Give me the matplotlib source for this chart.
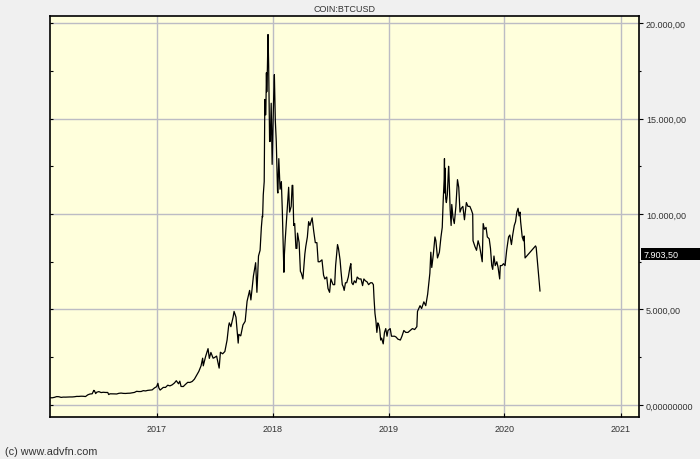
import matplotlib
matplotlib.use("Agg")
import matplotlib.pyplot as plt
import matplotlib.transforms as mtransforms
from matplotlib.patches import Rectangle
from matplotlib.ticker import FuncFormatter, MultipleLocator
import numpy as np

plt.rcParams["font.family"] = ["Liberation Sans", "DejaVu Sans"]

# BTC/USD closes (roughly weekly, denser around spikes)
dates = [
    "2016-01-30", "2016-02-06", "2016-02-13", "2016-02-20", "2016-02-27", "2016-03-05",
    "2016-03-12", "2016-03-19", "2016-03-26", "2016-04-02", "2016-04-09", "2016-04-16",
    "2016-04-23", "2016-04-30", "2016-05-07", "2016-05-14", "2016-05-21", "2016-05-28",
    "2016-06-04", "2016-06-11", "2016-06-16", "2016-06-18", "2016-06-22", "2016-06-25",
    "2016-07-02", "2016-07-09", "2016-07-16", "2016-07-23", "2016-07-30", "2016-08-02",
    "2016-08-06", "2016-08-13", "2016-08-20", "2016-08-27", "2016-09-03", "2016-09-10",
    "2016-09-17", "2016-09-24", "2016-10-01", "2016-10-08", "2016-10-15", "2016-10-22",
    "2016-10-29", "2016-11-05", "2016-11-12", "2016-11-19", "2016-11-26", "2016-12-03",
    "2016-12-10", "2016-12-17", "2016-12-24", "2016-12-31",
    "2017-01-04", "2017-01-07", "2017-01-11", "2017-01-14", "2017-01-21", "2017-01-28",
    "2017-02-04", "2017-02-11", "2017-02-18", "2017-02-25", "2017-03-03", "2017-03-10",
    "2017-03-14", "2017-03-18", "2017-03-25", "2017-04-01", "2017-04-08", "2017-04-15",
    "2017-04-22", "2017-04-29", "2017-05-06", "2017-05-13", "2017-05-20", "2017-05-25",
    "2017-05-27", "2017-06-03", "2017-06-10", "2017-06-11", "2017-06-15", "2017-06-20",
    "2017-06-27", "2017-07-01", "2017-07-08", "2017-07-15", "2017-07-16", "2017-07-20",
    "2017-07-27", "2017-08-03", "2017-08-10", "2017-08-15", "2017-08-17", "2017-08-22",
    "2017-08-29", "2017-09-01", "2017-09-07", "2017-09-14", "2017-09-16", "2017-09-22",
    "2017-09-29", "2017-10-06", "2017-10-12", "2017-10-15", "2017-10-20", "2017-10-24",
    "2017-11-01", "2017-11-08", "2017-11-12", "2017-11-17", "2017-11-22", "2017-11-26",
    "2017-11-29", "2017-11-30", "2017-12-02", "2017-12-05", "2017-12-07", "2017-12-08",
    "2017-12-10", "2017-12-12", "2017-12-13", "2017-12-15", "2017-12-17", "2017-12-19",
    "2017-12-22", "2017-12-24", "2017-12-27", "2017-12-30",
    "2018-01-02", "2018-01-05", "2018-01-06", "2018-01-09", "2018-01-12", "2018-01-16",
    "2018-01-17", "2018-01-20", "2018-01-24", "2018-01-28", "2018-01-31", "2018-02-02",
    "2018-02-05", "2018-02-06", "2018-02-09", "2018-02-15", "2018-02-20", "2018-02-23",
    "2018-02-28", "2018-03-03", "2018-03-05", "2018-03-08", "2018-03-11", "2018-03-15",
    "2018-03-18", "2018-03-20", "2018-03-25", "2018-03-29", "2018-04-01", "2018-04-06",
    "2018-04-12", "2018-04-15", "2018-04-20", "2018-04-24", "2018-04-28", "2018-05-05",
    "2018-05-10", "2018-05-15", "2018-05-20", "2018-05-24", "2018-05-29", "2018-06-05",
    "2018-06-10", "2018-06-14", "2018-06-20", "2018-06-24", "2018-06-29", "2018-07-03",
    "2018-07-10", "2018-07-15", "2018-07-18", "2018-07-24", "2018-07-27", "2018-08-01",
    "2018-08-04", "2018-08-08", "2018-08-11", "2018-08-14", "2018-08-18", "2018-08-22",
    "2018-08-27", "2018-09-01", "2018-09-04", "2018-09-07", "2018-09-11", "2018-09-15",
    "2018-09-20", "2018-09-24", "2018-09-30", "2018-10-06", "2018-10-11", "2018-10-15",
    "2018-10-20", "2018-10-25", "2018-10-30", "2018-11-05", "2018-11-10", "2018-11-14",
    "2018-11-16", "2018-11-19", "2018-11-22", "2018-11-25", "2018-11-28", "2018-12-01",
    "2018-12-04", "2018-12-07", "2018-12-10", "2018-12-15", "2018-12-19", "2018-12-23",
    "2018-12-27", "2018-12-30",
    "2019-01-06", "2019-01-10", "2019-01-15", "2019-01-20", "2019-01-25", "2019-01-30",
    "2019-02-07", "2019-02-12", "2019-02-18", "2019-02-24", "2019-03-03", "2019-03-10",
    "2019-03-17", "2019-03-24", "2019-03-31", "2019-04-02", "2019-04-10", "2019-04-15",
    "2019-04-22", "2019-04-28", "2019-05-04", "2019-05-11", "2019-05-14", "2019-05-17",
    "2019-05-22", "2019-05-27", "2019-05-30", "2019-06-04", "2019-06-10", "2019-06-15",
    "2019-06-19", "2019-06-22", "2019-06-25", "2019-06-26", "2019-06-27", "2019-06-28",
    "2019-06-30", "2019-07-02", "2019-07-05", "2019-07-09", "2019-07-10", "2019-07-14",
    "2019-07-17", "2019-07-19", "2019-07-23", "2019-07-27", "2019-08-01", "2019-08-06",
    "2019-08-10", "2019-08-14", "2019-08-18", "2019-08-23", "2019-08-28", "2019-09-03",
    "2019-09-08", "2019-09-14", "2019-09-19", "2019-09-23", "2019-09-24", "2019-09-30",
    "2019-10-05", "2019-10-10", "2019-10-15", "2019-10-18", "2019-10-23", "2019-10-26",
    "2019-10-30", "2019-11-04", "2019-11-08", "2019-11-14", "2019-11-18", "2019-11-22",
    "2019-11-25", "2019-11-29", "2019-12-03", "2019-12-08", "2019-12-12", "2019-12-17",
    "2019-12-19", "2019-12-24", "2019-12-29",
    "2020-01-03", "2020-01-06", "2020-01-08", "2020-01-14", "2020-01-18", "2020-01-23",
    "2020-01-27", "2020-02-01", "2020-02-05", "2020-02-09", "2020-02-13", "2020-02-16",
    "2020-02-19", "2020-02-21", "2020-02-26", "2020-03-01", "2020-03-03", "2020-03-06",
    "2020-04-08", "2020-04-10", "2020-04-22",
]
prices = [
    378, 376, 400, 438, 432, 397,
    412, 410, 417, 420, 420, 430,
    449, 448, 459, 455, 442, 530,
    574, 586, 765, 745, 595, 665,
    700, 650, 665, 655, 655, 545,
    585, 585, 580, 575, 610, 623,
    607, 603, 613, 617, 638, 657,
    715, 703, 705, 750, 735, 765,
    775, 790, 890, 960,
    1135, 895, 780, 820, 920, 920,
    1035, 1000, 1055, 1150, 1270, 1110,
    1245, 970, 965, 1080, 1185, 1180,
    1230, 1350, 1560, 1760, 2050, 2450,
    2050, 2520, 2880, 2950, 2440, 2750,
    2450, 2480, 2560, 2000, 1930, 2760,
    2680, 2800, 3400, 4150, 4300, 4100,
    4600, 4900, 4600, 3240, 3700, 3620,
    4190, 4380, 5430, 5650, 6000, 5500,
    6750, 7450, 5900, 7800, 8100, 9300,
    9900, 9850, 11000, 11700, 16000, 15200,
    15200, 17400, 16400, 17600, 19400, 17800,
    13800, 13800, 15800, 12600,
    14900, 16900, 17300, 14900, 13800, 11200,
    11100, 12900, 11300, 11700, 10200, 8900,
    6950, 7700, 8600, 10100, 11400, 10100,
    10400, 11500, 11500, 9400, 9500, 8200,
    8200, 9000, 8500, 7000, 6900, 6600,
    7900, 8300, 8800, 9600, 9400, 9800,
    9100, 8500, 8500, 7500, 7500, 7600,
    6800, 6600, 6700, 6100, 5900, 6600,
    6300, 6300, 7300, 8400, 8200, 7600,
    7000, 6300, 6200, 6000, 6400, 6400,
    6700, 7200, 7400, 6400, 6300, 6500,
    6400, 6700, 6600, 6600, 6250, 6600,
    6500, 6450, 6300, 6400, 6400, 6300,
    5600, 4800, 4400, 3800, 4300, 4200,
    3950, 3400, 3500, 3200, 3800, 4000,
    3600, 3900,
    4000, 3600, 3600, 3600, 3550, 3450,
    3400, 3600, 3900, 3800, 3800, 3900,
    4000, 3950, 4100, 4900, 5200, 5050,
    5400, 5200, 5800, 6900, 8000, 7200,
    7900, 8800, 8600, 7700, 8000, 8800,
    9300, 10700, 11800, 12900, 11100, 12400,
    10800, 10600, 11000, 12500, 12200, 10200,
    9400, 10500, 9800, 9500, 10400, 11800,
    11400, 10100, 10300, 10400, 9700, 10600,
    10400, 10400, 10200, 10000, 8600, 8300,
    8100, 8600, 8300, 8000, 7500, 9500,
    9200, 9300, 8800, 8700, 8200, 7300,
    7100, 7800, 7300, 7500, 7200, 6600,
    7300, 7300, 7400,
    7300, 7800, 8100, 8800, 8900, 8400,
    8900, 9400, 9600, 10100, 10300, 9900,
    10100, 9600, 8800, 8600, 8850, 7700,
    8330, 8250, 5970,
]
last_price = 7903.50
year_ticks = ["2017", "2018", "2019", "2020", "2021"]


def de_format(v, _pos=None):
    if v == 0:
        return "0,00000000"
    s = f"{v:,.2f}"
    return s.replace(",", "X").replace(".", ",").replace("X", ".")


x = np.array(dates, dtype="datetime64[D]")
y = np.array(prices, dtype=float)

fig = plt.figure(figsize=(7.0, 4.6), dpi=100, facecolor="#f0f0f0")
ax = fig.add_axes([50 / 700, 1 - 418 / 460, 589 / 700, 401 / 460])
ax.set_facecolor("#ffffdc")

ax.plot(x, y, color="black", lw=0.9, zorder=3)

ax.set_xlim(np.datetime64("2016-01-30"), np.datetime64("2021-02-28"))
ax.set_ylim(-630, 20370)

ax.set_xticks([np.datetime64(f"{yr}-01-01") for yr in year_ticks])
ax.set_xticklabels(year_ticks)
ax.yaxis.set_major_locator(MultipleLocator(5000))
ax.yaxis.set_minor_locator(MultipleLocator(2500))
ax.grid(True, which="major", color="#bcbcc4", lw=1.0, zorder=1)

ax.tick_params(axis="x", direction="in", length=3, width=0.8, labelsize=6.5,
               labelcolor="#333333", pad=5)
ax.tick_params(axis="y", which="both", direction="in", length=2, width=0.8,
               labelleft=False)
for side in ax.spines.values():
    side.set_linewidth(1.2)

ax2 = ax.twinx()
ax2.set_ylim(ax.get_ylim())
ax2.yaxis.set_major_locator(MultipleLocator(5000))
ax2.yaxis.set_minor_locator(MultipleLocator(2500))
ax2.yaxis.set_major_formatter(FuncFormatter(de_format))
ax2.tick_params(axis="y", which="major", direction="out", length=3, width=0.8,
                labelsize=6.5, labelcolor="#333333", pad=2)
ax2.tick_params(axis="y", which="minor", direction="out", length=1.5, width=0.8)
for side in ax2.spines.values():
    side.set_visible(False)

# last price marker on the right axis
trans = mtransforms.blended_transform_factory(fig.transFigure, ax.transData)
box_h = 12 / 401 * (ax.get_ylim()[1] - ax.get_ylim()[0])
fig.patches.append(Rectangle((641 / 700, last_price - box_h / 2), 59 / 700, box_h,
                             transform=trans, facecolor="black", edgecolor="none",
                             clip_on=False))
fig.text(644 / 700, last_price, de_format(last_price), color="white", fontsize=6.5,
         va="center", ha="left", transform=trans)

fig.text(344 / 700, 1 - 9 / 460, "COIN:BTCUSD", ha="center", va="center",
         fontsize=6.5, color="#333333")
fig.text(5 / 700, 1 - 452 / 460, "(c) www.advfn.com", ha="left", va="center",
         fontsize=7.8, color="#333333")

fig.savefig("out.png", dpi=100, facecolor=fig.get_facecolor())
